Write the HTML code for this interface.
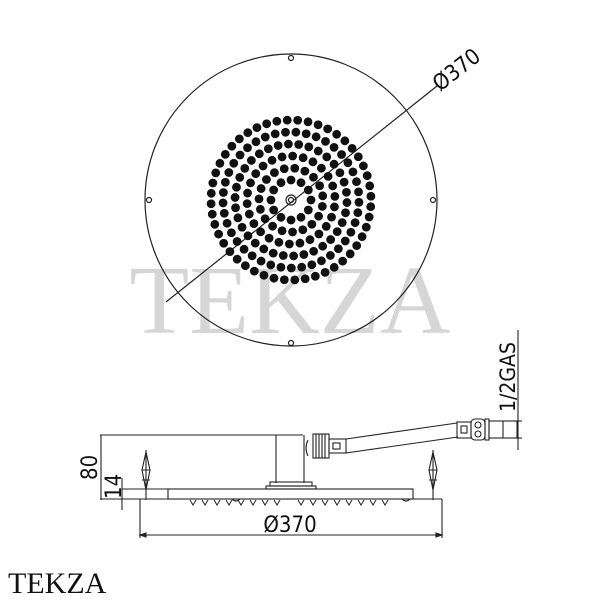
<!DOCTYPE html>
<html><head><meta charset="utf-8"><style>
html,body{margin:0;padding:0;background:#fff;}
svg{display:block;}
text{font-family:"DejaVu Sans Condensed","Liberation Sans",sans-serif;}
</style></head><body>
<svg id="s" width="600" height="600" viewBox="0 0 600 600" xmlns="http://www.w3.org/2000/svg">
<text x="290" y="333" text-anchor="middle" font-size="98" fill="#d6d6d6" style="font-family:'Liberation Serif',serif">TEKZA</text>
<g fill="none" stroke="#222" stroke-width="1.2">
<circle cx="291" cy="200" r="146"/>
<circle cx="291" cy="200" r="5"/><circle cx="291" cy="200" r="2.5"/>
<circle cx="291" cy="58" r="2.5"/><circle cx="149" cy="200" r="2.5"/><circle cx="433" cy="200" r="2.5"/><circle cx="291" cy="343" r="2.5"/>
<line x1="166" y1="302" x2="437" y2="86"/>
</g>
<g id="dots" fill="#111"></g>
<text transform="translate(440,92) rotate(-38)" font-size="22" fill="#111">Ø370</text>

<g fill="none" stroke="#222" stroke-width="1.1">
<polyline points="100,435 303,435"/>
<line x1="276" y1="435" x2="276" y2="483"/>
<line x1="304" y1="435" x2="304" y2="483"/>
<rect x="270" y="482" width="42" height="4"/>
<rect x="266" y="486" width="50" height="3"/>
<rect x="168" y="489" width="245" height="10"/>
<line x1="140" y1="499" x2="442" y2="499"/>
<line x1="140" y1="499" x2="140" y2="538"/>
<line x1="442" y1="499" x2="442" y2="538"/>
<line x1="140" y1="535" x2="442" y2="535"/>
<path d="M140,535 l6,-2 v4z M442,535 l-6,-2 v4z" fill="#222"/>
<line x1="101" y1="435" x2="101" y2="500"/>
<line x1="100" y1="499" x2="140" y2="499"/>
<line x1="122" y1="489" x2="168" y2="489"/>
<line x1="122" y1="478" x2="122" y2="510"/>
<path d="M308,440 q-4,8 0,16"/>
<rect x="313" y="434" width="16" height="24"/>
<path d="M316,434v24M319,434v24M322,434v24M325,434v24"/>
<rect x="329" y="439" width="17" height="14"/>
<rect x="333" y="443" width="7" height="6"/>
<line x1="346" y1="439" x2="457" y2="423"/>
<line x1="346" y1="453" x2="458" y2="437"/>
<rect x="457" y="422" width="14" height="16"/>
<rect x="461" y="426" width="6" height="7"/>
<rect x="471" y="419" width="14" height="21" rx="4"/>
<circle cx="478" cy="425" r="3"/><circle cx="478" cy="434" r="3"/>
<rect x="485" y="419" width="4" height="21"/>
<rect x="489" y="421" width="28" height="17"/>
<line x1="503" y1="421" x2="503" y2="438"/>
<line x1="518" y1="330" x2="518" y2="450"/>
<line x1="513" y1="421" x2="522" y2="421"/>
<line x1="513" y1="438" x2="522" y2="438"/>
<path d="M146,450 v50 M142,470 l4,-18 4,18 -4,20z M142,470 h8 M142,480 h8"/>
<path d="M433,450 v50 M429,470 l4,-18 4,18 -4,20z M429,470 h8 M429,480 h8"/>
<path d="M232,499 q4,4 8,0 M402,499 q4,4 8,0"/>
</g>
<g id="noz" fill="none" stroke="#222" stroke-width="1"></g>
<text x="290" y="532" text-anchor="middle" font-size="22" fill="#111">Ø370</text>
<text transform="translate(97,480) rotate(-90)" font-size="22" fill="#111">80</text>
<text transform="translate(121,499) rotate(-90)" font-size="22" fill="#111">14</text>
<text transform="translate(515,412) rotate(-90)" font-size="21" fill="#111">1/2GAS</text>
<text x="8" y="593" font-size="30" fill="#111" style="font-family:'Liberation Serif',serif">TEKZA</text>
</svg>
<script>
var g=document.getElementById('dots'),ns='http://www.w3.org/2000/svg';
[20,32,44,56,68,80].forEach(function(r,i){var n=Math.round(2*Math.PI*r/10.5);for(var k=0;k<n;k++){var a=2*Math.PI*k/n+i*0.2;var c=document.createElementNS(ns,'circle');c.setAttribute('cx',291+r*Math.cos(a));c.setAttribute('cy',200+r*Math.sin(a));c.setAttribute('r',4.4);g.appendChild(c);}});
var z=document.getElementById('noz');for(var x=193;x<=387;x+=12){if(Math.abs(x-290)<5)continue;var p=document.createElementNS(ns,'path');p.setAttribute('d','M'+(x-3)+',500 l3,5 l3,-5');z.appendChild(p);}
</script>
</body></html>
